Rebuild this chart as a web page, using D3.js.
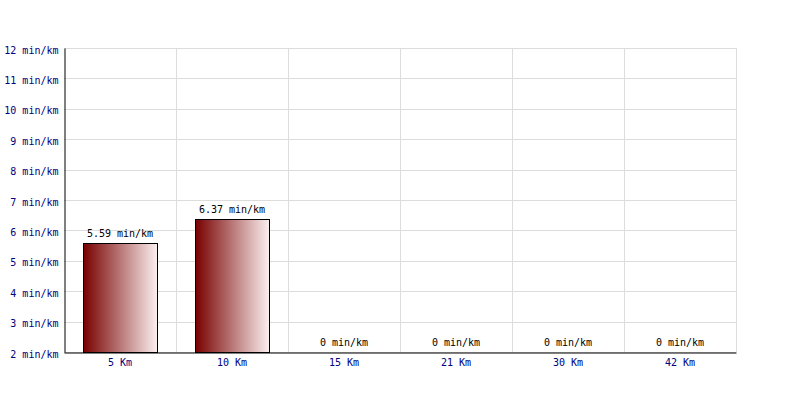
<!DOCTYPE html>
<html><head><meta charset="utf-8">
<script src="https://cdn.jsdelivr.net/npm/d3@7"></script>
<style>body{margin:0;background:#fff}svg{display:block}</style>
</head><body>
<svg id="c" width="800" height="400"></svg>
<script>
const categories = ["5 Km","10 Km","15 Km","21 Km","30 Km","42 Km"];
const values = [5.59, 6.37, 0, 0, 0, 0];
const valueLabels = ["5.59 min/km","6.37 min/km","0 min/km","0 min/km","0 min/km","0 min/km"];
const yTicks = [2,3,4,5,6,7,8,9,10,11,12];
const yMin = 2, yMax = 12;

const svg = d3.select("#c");
const m = {l:64, r:64, t:48, b:48};
const W = 800, H = 400;
const x = d3.scaleBand().domain(categories).range([m.l, W - m.r]).paddingInner(0).paddingOuter(0);
const y = d3.scaleLinear().domain([yMin, yMax]).range([H - m.b, m.t]);
const font = "'DejaVu Sans Mono', monospace";

const defs = svg.append("defs");
const g = defs.append("linearGradient").attr("id","bg").attr("x1","0").attr("x2","1").attr("y1","0").attr("y2","0");
g.append("stop").attr("offset","0%").attr("stop-color","#780000");
g.append("stop").attr("offset","100%").attr("stop-color","#fbf0f0");

// grid
svg.append("g").selectAll("line").data(yTicks).join("line")
  .attr("x1", m.l).attr("x2", W - m.r)
  .attr("y1", d => Math.round(y(d)) + 0.5).attr("y2", d => Math.round(y(d)) + 0.5)
  .attr("stroke", "#dcdcdc");
svg.append("g").selectAll("line").data(categories).join("line")
  .attr("x1", d => Math.round(x(d) + x.bandwidth()) + 0.5).attr("x2", d => Math.round(x(d) + x.bandwidth()) + 0.5)
  .attr("y1", m.t).attr("y2", H - m.b)
  .attr("stroke", "#dcdcdc");

// bars
const bw = 74;
svg.append("g").selectAll("rect").data(values.map((v,i)=>({v,c:categories[i]})).filter(d=>d.v>yMin)).join("rect")
  .attr("x", d => Math.round(x(d.c) + (x.bandwidth() - bw)/2) + 0.5)
  .attr("y", d => Math.round(y(d.v)) + 0.5)
  .attr("width", bw)
  .attr("height", d => Math.round(y(yMin)) - Math.round(y(d.v)))
  .attr("fill", "url(#bg)").attr("stroke", "#000").attr("stroke-width", 1);

// value labels
svg.append("g").selectAll("text").data(values).join("text")
  .attr("x", (d,i) => x(categories[i]) + x.bandwidth()/2)
  .attr("y", d => y(Math.max(d, yMin)) - 6)
  .attr("text-anchor", "middle").attr("font-family", font).attr("font-size", 10).attr("fill", "#000")
  .text((d,i) => valueLabels[i]);

// axes
const yAxis = d3.axisLeft(y).tickValues(yTicks).tickSize(0).tickPadding(6).tickFormat(d => d + " min/km");
const ya = svg.append("g").attr("transform", `translate(${m.l + 0.5},0)`).call(yAxis);
ya.select(".domain").attr("stroke", "#000");
ya.selectAll("text").attr("font-family", font).attr("font-size", 10).attr("fill", "#000080").attr("dy", "0.5em");

const xAxis = d3.axisBottom(x).tickSize(0).tickPadding(6);
const xa = svg.append("g").attr("transform", `translate(0,${H - m.b + 0.5})`).call(xAxis);
xa.select(".domain").attr("stroke", "#000");
xa.selectAll("text").attr("font-family", font).attr("font-size", 10).attr("fill", "#000080");
</script>
</body></html>
